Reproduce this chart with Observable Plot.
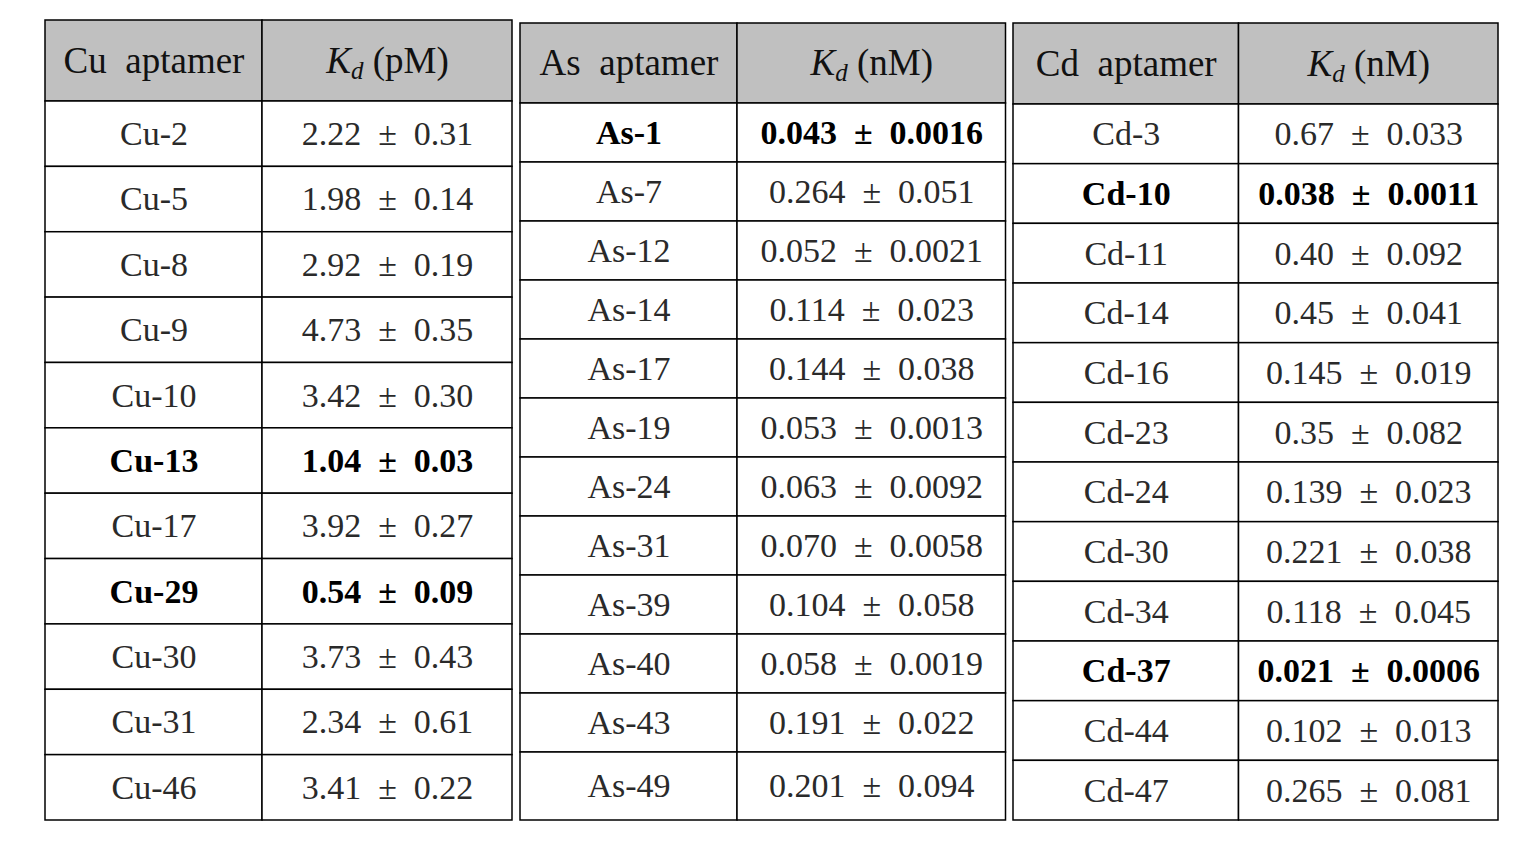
<!DOCTYPE html>
<html>
<head>
<meta charset="utf-8">
<script src="https://cdn.jsdelivr.net/npm/d3@7"></script>
<script src="https://cdn.jsdelivr.net/npm/@observablehq/plot@0.6"></script>
<style>
  html, body { margin: 0; padding: 0; background: #fff; }
  #chart { width: 1536px; height: 842px; }
</style>
</head>
<body>
<div id="chart"></div>
<script>
// ---- data ----
const cuNames = ["Cu-2","Cu-5","Cu-8","Cu-9","Cu-10","Cu-13","Cu-17","Cu-29","Cu-30","Cu-31","Cu-46"];
const cuKd    = ["2.22","1.98","2.92","4.73","3.42","1.04","3.92","0.54","3.73","2.34","3.41"];
const cuErr   = ["0.31","0.14","0.19","0.35","0.30","0.03","0.27","0.09","0.43","0.61","0.22"];
const cuBold  = ["Cu-13","Cu-29"];

const asNames = ["As-1","As-7","As-12","As-14","As-17","As-19","As-24","As-31","As-39","As-40","As-43","As-49"];
const asKd    = ["0.043","0.264","0.052","0.114","0.144","0.053","0.063","0.070","0.104","0.058","0.191","0.201"];
const asErr   = ["0.0016","0.051","0.0021","0.023","0.038","0.0013","0.0092","0.0058","0.058","0.0019","0.022","0.094"];
const asBold  = ["As-1"];

const cdNames = ["Cd-3","Cd-10","Cd-11","Cd-14","Cd-16","Cd-23","Cd-24","Cd-30","Cd-34","Cd-37","Cd-44","Cd-47"];
const cdKd    = ["0.67","0.038","0.40","0.45","0.145","0.35","0.139","0.221","0.118","0.021","0.102","0.265"];
const cdErr   = ["0.033","0.0011","0.092","0.041","0.019","0.082","0.023","0.038","0.045","0.0006","0.013","0.081"];
const cdBold  = ["Cd-10","Cd-37"];

const headers = [
  ["Cu\u00a0\u00a0aptamer", "Kd (pM)"],
  ["As\u00a0\u00a0aptamer", "Kd (nM)"],
  ["Cd\u00a0\u00a0aptamer", "Kd (nM)"]
];

// ---- layout (positions, not data) ----
const layouts = [
  {left: 45,   mid: 262,    right: 512,    top: 20, head: 101, bottom: 820, rowH: null},
  {left: 520,  mid: 737,    right: 1005.5, top: 23, head: 103, bottom: 820, rowH: 59},
  {left: 1013, mid: 1238.5, right: 1498,   top: 23, head: 104, bottom: 820, rowH: null}
];
const series = [
  {names: cuNames, kd: cuKd, err: cuErr, bold: cuBold},
  {names: asNames, kd: asKd, err: asErr, bold: asBold},
  {names: cdNames, kd: cdKd, err: cdErr, bold: cdBold}
];

const NB = "\u00a0";
const headCells = [], bodyCells = [], headTexts = [], bodyTexts = [];
series.forEach((s, t) => {
  const L = layouts[t];
  const n = s.names.length;
  const h = L.rowH ?? (L.bottom - L.head) / n;
  const cols = [[L.left, L.mid], [L.mid, L.right]];
  cols.forEach(([a, b], c) => {
    headCells.push({x1: a, x2: b, y1: L.top, y2: L.head});
    headTexts.push({x: (a + b) / 2, y: (L.top + L.head) / 2, text: headers[t][c]});
  });
  s.names.forEach((name, i) => {
    const y1 = L.head + i * h;
    const y2 = i === n - 1 ? L.bottom : L.head + (i + 1) * h;
    const bold = s.bold.includes(name);
    const vals = [name, s.kd[i] + NB + NB + "±" + NB + NB + s.err[i]];
    cols.forEach(([a, b], c) => {
      bodyCells.push({x1: a, x2: b, y1, y2});
      bodyTexts.push({x: (a + b) / 2, y: (y1 + y2) / 2, text: vals[c], bold});
    });
  });
});

const font = "'Liberation Serif', 'DejaVu Serif', serif";

const chart = Plot.plot({
  width: 1536,
  height: 842,
  margin: 0,
  x: {domain: [0, 1536], range: [0, 1536], axis: null},
  y: {domain: [0, 842], range: [0, 842], axis: null},
  style: {fontFamily: font, background: "#fff"},
  marks: [
    Plot.rect(headCells, {x1: "x1", x2: "x2", y1: "y1", y2: "y2", fill: "#c0c0c0", stroke: "#000", strokeWidth: 1.5}),
    Plot.rect(bodyCells, {x1: "x1", x2: "x2", y1: "y1", y2: "y2", fill: "#fff", stroke: "#000", strokeWidth: 1.5}),
    Plot.text(headTexts, {x: "x", y: "y", text: "text", fontSize: 37, fill: "#111", fontFamily: font}),
    Plot.text(bodyTexts.filter(d => !d.bold), {x: "x", y: "y", text: "text", fontSize: 34, fill: "#2a2a2a", fontFamily: font}),
    Plot.text(bodyTexts.filter(d => d.bold), {x: "x", y: "y", text: "text", fontSize: 34, fontWeight: "bold", fill: "#000", fontFamily: font})
  ]
});

// Rich text for the Kd headers: italic K with italic subscript d
const SVGNS = "http://www.w3.org/2000/svg";
chart.querySelectorAll("text").forEach(el => {
  const s = el.textContent;
  if (/^Kd /.test(s)) {
    const rest = s.slice(2);
    el.textContent = "";
    const k = document.createElementNS(SVGNS, "tspan");
    k.setAttribute("font-style", "italic");
    k.textContent = "K";
    const d = document.createElementNS(SVGNS, "tspan");
    d.setAttribute("font-style", "italic");
    d.setAttribute("font-size", "25");
    d.setAttribute("dy", "6");
    d.textContent = "d";
    const r = document.createElementNS(SVGNS, "tspan");
    r.setAttribute("dy", "-6");
    r.textContent = rest;
    el.append(k, d, r);
  }
});

document.getElementById("chart").appendChild(chart);
</script>
</body>
</html>
